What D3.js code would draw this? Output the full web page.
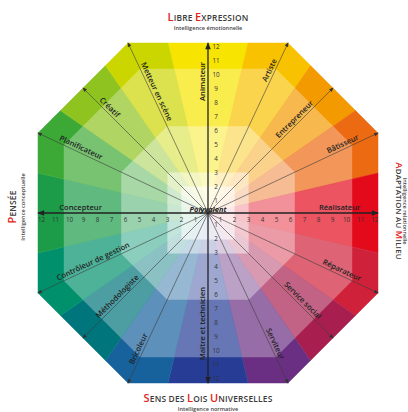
<!DOCTYPE html>
<html><head><meta charset="utf-8">
<script src="https://cdn.jsdelivr.net/npm/d3@7"></script>
<style>body{margin:0;background:#fff}svg{display:block}</style>
</head><body>
<svg id="c" width="408" height="412"></svg>
<script>
// ---- data ----
const roles = ["Animateur","Artiste","Entrepreneur","Bâtisseur","Réalisateur","Réparateur","Service social","Serviteur","Maître et technicien","Bricoleur","Méthodologiste","Contrôleur de gestion","Concepteur","Planificateur","Créatif","Metteur en scène"];
const roleColors = ["#f7e400","#f9c200","#f39a00","#ec6a12","#e30a1c","#d0213a","#a81f4f","#6a2f83","#263c95","#17619c","#00757b","#00916c","#1c9c49","#3ca936","#8ec320","#cbd600"];
const labelLevels = [9.4,11.1,9.1,10.8,9.4,10.4,9.2,10.5,7.9,10.9,8.8,8.9,9.1,10.2,10.3,9.4];
const tickValues = [1,2,3,4,5,6,7,8,9,10,11,12];
const ringLevels = [10.3, 6.2, 2.9, 1.9];
const ringShapes = ["octagon","octagon","square","square"];
const ringTints = [0.3, 0.55, 0.76, 0.9];
const centerLabel = "Polyvalent";
const titleTop = [["L","IBRE "],["E","XPRESSION"]];
const subTop = "Intelligence émotionnelle";
const titleBottom = [["S","ENS DES "],["L","OIS "],["U","NIVERSELLES"]];
const subBottom = "Intelligence normative";
const titleLeft = [["P","ENSÉE"]];
const subLeft = "Intelligence conceptuelle";
const titleRight = [["A","DAPTATION AU "],["M","ILIEU"]];
const subRight = "Intelligence relationnelle";

// ---- layout ----
const cx = 208, cy = 213, A = 170, h = 80;
const svg = d3.select("#c");
const r = d3.scaleLinear().domain([0, 12]).range([0, 168]);
const font = "'Open Sans', 'DejaVu Sans', sans-serif";

const dirs = [[0,-A],[h,-A],[(A+h)/2,-(A+h)/2],[A,-h],[A,0],[A,h],[(A+h)/2,(A+h)/2],[h,A],[0,A],[-h,A],[-(A+h)/2,(A+h)/2],[-A,h],[-A,0],[-A,-h],[-(A+h)/2,-(A+h)/2],[-h,-A]];
const n = dirs.length;
const mids = dirs.map((d,k)=>{const e=dirs[(k+1)%n];return [(d[0]+e[0])/2,(d[1]+e[1])/2];});
const octa = [[-h,-A],[h,-A],[A,-h],[A,h],[h,A],[-h,A],[-A,h],[-A,-h]];
const line = d3.line();

const defs = svg.append("defs");
defs.append("marker").attr("id","arr").attr("viewBox","-1 -3 8 6")
  .attr("refX",5).attr("refY",0).attr("markerWidth",6).attr("markerHeight",5)
  .attr("markerUnits","userSpaceOnUse").attr("orient","auto")
  .append("path").attr("d","M0,-2.5L6,0L0,2.5Z").attr("fill","#333");
defs.append("marker").attr("id","arrB").attr("viewBox","-1 -4 10 8")
  .attr("refX",7).attr("refY",0).attr("markerWidth",9).attr("markerHeight",7)
  .attr("markerUnits","userSpaceOnUse").attr("orient","auto-start-reverse")
  .append("path").attr("d","M0,-3.2L8,0L0,3.2Z").attr("fill","#222");

function shapePath(type, level){
  if(type==="square"){const s=r(level);return line([[-s,-s],[s,-s],[s,s],[-s,s]])+"Z";}
  const f=r(level)/A;return line(octa.map(p=>[p[0]*f,p[1]*f]))+"Z";
}
ringLevels.forEach((lv,i)=>{
  defs.append("clipPath").attr("id","ring"+i).append("path").attr("d",shapePath(ringShapes[i],lv));
});

const g = svg.append("g").attr("transform",`translate(${cx},${cy})`);
const wedgePts = k => [[0,0], mids[(k-1+n)%n], dirs[k], mids[k]];

// outer band
const outer = g.append("g");
outer.selectAll("path").data(roles).join("path")
  .attr("d",(d,k)=>line(wedgePts(k))+"Z")
  .attr("fill",(d,k)=>roleColors[k]).attr("stroke",(d,k)=>roleColors[k]).attr("stroke-width",0.5);

ringLevels.forEach((lv,i)=>{
  const rg = g.append("g").attr("clip-path",`url(#ring${i})`);
  rg.selectAll("path").data(roles).join("path")
    .attr("d",(d,k)=>line(wedgePts(k))+"Z")
    .attr("fill",(d,k)=>d3.interpolateRgb(roleColors[k],"#fff")(ringTints[i]))
    .attr("stroke",(d,k)=>d3.interpolateRgb(roleColors[k],"#fff")(ringTints[i])).attr("stroke-width",0.5);
});

// thin radial lines
g.selectAll("line.rad").data(dirs.filter((d,k)=>k%4!==0)).join("line").attr("class","rad")
  .attr("x1",0).attr("y1",0).attr("x2",d=>d[0]).attr("y2",d=>d[1])
  .attr("stroke","#3a3a3a").attr("stroke-width",0.6).attr("marker-end","url(#arr)");

// main axes
g.append("line").attr("x1",0).attr("y1",A).attr("x2",0).attr("y2",-A)
  .attr("stroke","#222").attr("stroke-width",1.3)
  .attr("marker-start","url(#arrB)").attr("marker-end","url(#arrB)");
g.append("line").attr("x1",-A).attr("y1",0).attr("x2",A).attr("y2",0)
  .attr("stroke","#222").attr("stroke-width",1.3)
  .attr("marker-start","url(#arrB)").attr("marker-end","url(#arrB)");

// tick labels
const tl = g.append("g").attr("font-family",font).attr("font-size",6.3).attr("fill","#333").attr("text-anchor","middle");
tickValues.forEach(v=>{
  const pv = r(v)-2;
  const ph = r(v)-1.5;
  tl.append("text").attr("x",8).attr("y",-pv+2.2).text(v);
  tl.append("text").attr("x",8).attr("y",pv+2.2).text(v);
  tl.append("text").attr("x",-ph).attr("y",8.5).text(v);
  tl.append("text").attr("x",ph).attr("y",8.5).text(v);
});

// role labels
const lab = g.append("g").attr("font-family",font).attr("font-size",7.6).attr("font-weight",600).attr("fill","#222").attr("text-anchor","middle");
roles.forEach((name,k)=>{
  const d=dirs[k], L=Math.hypot(d[0],d[1]);
  const ux=d[0]/L, uy=d[1]/L, dist=r(labelLevels[k]);
  let rot=Math.atan2(uy,ux)*180/Math.PI;
  if(rot>=90) rot-=180; if(rot<-90) rot+=180;
  lab.append("text").attr("transform",`translate(${ux*dist},${uy*dist}) rotate(${rot})`)
    .attr("dy",-2.6).text(name);
});

// center label
g.append("text").attr("x",0).attr("y",-1).attr("text-anchor","middle")
  .attr("font-family",font).attr("font-size",7.4).attr("font-weight",700).attr("font-style","italic")
  .attr("fill","#222").text(centerLabel);

// titles
function smallCaps(sel, parts, big, small){
  parts.forEach(([b,rest])=>{
    sel.append("tspan").attr("font-size",big).attr("fill","#e2231a").text(b);
    sel.append("tspan").attr("font-size",small).attr("fill","#3a3a3a").text(rest);
  });
}
function title(x,y,rot,parts,sub,subOff,big,small){
  const tg = svg.append("g").attr("transform",`translate(${x},${y}) rotate(${rot})`)
    .attr("font-family",font).attr("text-anchor","middle");
  const t = tg.append("text").attr("font-weight",600).attr("letter-spacing",0.2);
  smallCaps(t, parts, big, small);
  tg.append("text").attr("y",subOff).attr("font-size",5.6).attr("font-weight",600).attr("fill","#444").text(sub);
}
title(208,21,0,titleTop,subTop,9,11,8.4);
title(208,402,0,titleBottom,subBottom,9,11,8.4);
title(16,207,-90,titleLeft,subLeft,9,11,8.4);
title(396,211,90,titleRight,subRight,-7,9.5,7.8);
</script>
</body></html>
